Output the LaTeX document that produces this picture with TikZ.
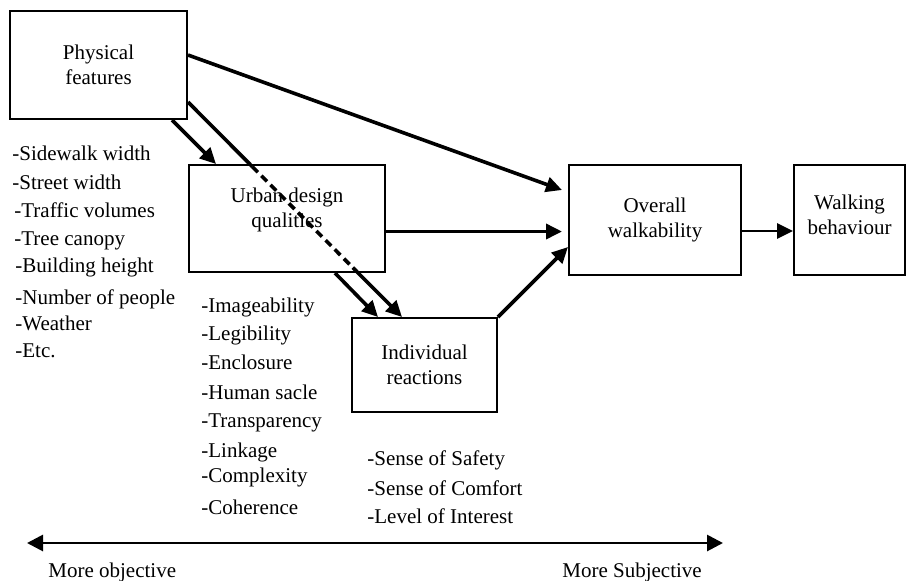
\documentclass[tikz,border=0pt]{standalone}
\usepackage{fontspec}
\setmainfont{Liberation Serif}
\usetikzlibrary{arrows.meta,calc}

\tikzset{
  box/.style={draw=black, line width=1pt, inner sep=0pt},
  boxtext/.style={align=center, font=\fontsize{10.5}{12.5}\selectfont},
  item/.style={anchor=base west, inner sep=0pt, font=\fontsize{10.5}{12.5}\selectfont},
  arr/.style={line width=1.8pt, -{Triangle[length=8pt,width=7.5pt]}},
}

\begin{document}
\begin{tikzpicture}[x=0.5pt,y=-0.5pt]
	\useasboundingbox (0,0) rectangle (910,580);

	% boxes
	\node[box,boxtext,minimum width=88.5pt,minimum height=54pt] (phys) at (98.5,65) {Physical\\features};
	\node[box,minimum width=98pt,minimum height=53.5pt] (ud) at (287,218.5) {};
	\node[boxtext] (udtext) at (287,210) {Urban design\\qualities};
	\node[box,boxtext,minimum width=72.5pt,minimum height=47pt] (ir) at (424.5,365) {Individual\\reactions};
	\node[box,boxtext,minimum width=86pt,minimum height=55pt] (ov) at (655,220) {Overall\\walkability};
	\node[box,minimum width=55.5pt,minimum height=55pt] (wb) at (849.5,220) {};
	\node[boxtext] (wbtext) at (849.5,215) {Walking\\behaviour};

	% lists
	\node[item] (p1) at (12,160) {-Sidewalk width};
	\node[item] (p2) at (12,189) {-Street width};
	\node[item] (p3) at (14,217) {-Traffic volumes};
	\node[item] (p4) at (14,245) {-Tree canopy};
	\node[item] (p5) at (15,272) {-Building height};
	\node[item] (p6) at (15,304) {-Number of people};
	\node[item] (p7) at (15,330) {-Weather};
	\node[item] (p8) at (15,357) {-Etc.};

	\node[item] (u1) at (201,312) {-Imageability};
	\node[item] (u2) at (201,340) {-Legibility};
	\node[item] (u3) at (201,369) {-Enclosure};
	\node[item] (u4) at (201,399) {-Human sacle};
	\node[item] (u5) at (201,427) {-Transparency};
	\node[item] (u6) at (201,457) {-Linkage};
	\node[item] (u7) at (201,482) {-Complexity};
	\node[item] (u8) at (201,514) {-Coherence};

	\node[item] (r1) at (367,465) {-Sense of Safety};
	\node[item] (r2) at (367,495) {-Sense of Comfort};
	\node[item] (r3) at (367,523) {-Level of Interest};

	% connectors
	\draw[arr] ([yshift=5pt]phys.east) -- ([yshift=15pt,xshift=-3pt]ov.west);
	\draw[arr] ([xshift=36.75pt]phys.south) -- ([xshift=-35.5pt]ud.north);

	\coordinate (pa) at ([yshift=-18.5pt]phys.east);
	\coordinate (pb) at ([xshift=-11.25pt]ir.north);
	\draw[line width=1.8pt] (pa) -- ($(pa)!0.30!(pb)$);
	\draw[line width=1.8pt, dash pattern=on 4pt off 2.5pt] ($(pa)!0.30!(pb)$) -- ($(pa)!0.77!(pb)$);
	\draw[arr] ($(pa)!0.77!(pb)$) -- (pb);

	\draw[arr] ([xshift=24pt]ud.south) -- ([xshift=-23.25pt]ir.north);
	\coordinate (ua) at ([yshift=-6.5pt]ud.east);
	\draw[arr, shorten >=3pt] (ua) -- (ua -| ov.west);
	\draw[arr] (ir.north east) -- ([yshift=-13.5pt]ov.west);
	\coordinate (oa) at ([yshift=-5.5pt]ov.east);
	\draw[arr, line width=1.4pt] (oa) -- (oa -| wb.west);

	% objective / subjective scale
	\coordinate (lo) at (27,543);
	\coordinate (hi) at (723,543);
	\draw[line width=1.4pt, {Triangle[length=8pt,width=8pt]}-{Triangle[length=8pt,width=8pt]}] (lo) -- (hi);
	\node[item] (obj) at (48,577) {More objective};
	\node[item] (subj) at (562,577) {More Subjective};

\end{tikzpicture}
\end{document}
